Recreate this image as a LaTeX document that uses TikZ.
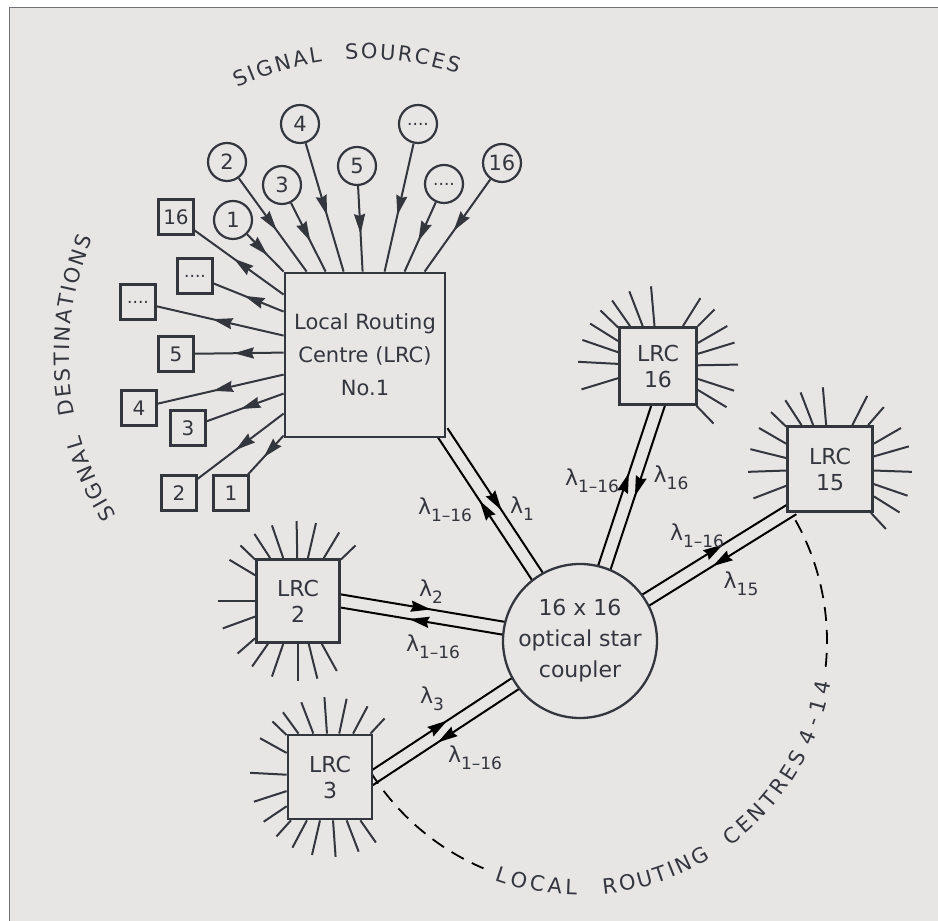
\documentclass[tikz,border=0pt]{standalone}
\usepackage{fontspec}
\setmainfont{DejaVu Sans}
\usetikzlibrary{arrows.meta,calc,backgrounds,decorations.markings,decorations.text}

\definecolor{ink}{RGB}{52,54,62}
\definecolor{paper}{RGB}{232,230,229}

\newcommand{\wl}[1]{λ\raisebox{-7pt}{\fontsize{17}{17}\selectfont #1}}
\newcommand{\arcfont}{\fontsize{21}{25}\selectfont}
\newcommand{\dotsfont}{\fontsize{17}{17}\selectfont}

\begin{document}
\begin{tikzpicture}[
  x=1pt, y=1pt,
  color=ink,
  >={Stealth[length=20pt,width=11pt,inset=2pt]},
  every node/.style={inner sep=0pt},
  lrcbig/.style={
    rectangle, draw, fill=paper, line width=2.8pt,
    minimum width=160pt, minimum height=164pt,
    align=center, font=\fontsize{21}{33}\selectfont,
  },
  lrcbox/.style={
    rectangle, draw, fill=paper, line width=2.8pt,
    minimum size=83pt,
    align=center, font=\fontsize{22}{26}\selectfont,
  },
  starbox/.style={
    circle, draw, fill=paper, line width=2.3pt,
    minimum size=154pt,
    align=center, font=\fontsize{22}{31}\selectfont,
  },
  srcbox/.style={circle, draw, line width=2.2pt, minimum size=38pt,
    font=\fontsize{21}{21}\selectfont},
  dstbox/.style={rectangle, draw, line width=2.4pt, minimum size=35pt,
    font=\fontsize{20}{20}\selectfont},
  wlabel/.style={font=\fontsize{22}{22}\selectfont},
  feed/.style={line width=2pt,
    decoration={markings, mark=at position 0.56 with {\arrow{>}}},
    postaction={decorate}},
  fibre/.style={line width=2pt,
    decoration={markings,
      mark=at position 0.5 with {\pgftransformxshift{10pt}\arrow{>}}},
    postaction={decorate}},
  spoke/.style={line width=2pt},
  ring/.style={line width=1.8pt, dash pattern=on 14pt off 9pt},
  arctext/.style={decorate, decoration={text along path,
    text align=fit to path, text color=ink}},
]
\useasboundingbox (0,0) rectangle (938,921);

%---------- paper ----------
\begin{scope}[on background layer]
  \fill[white] (0,0) rectangle (938,921);
  \fill[paper] (9,0) rectangle (938,913);
  \draw[line width=1pt, ink!70] (9,0) -- (9,913) -- (938,913);
\end{scope}

%---------- routing centres and coupler ----------
\node[lrcbig] (lrc1) at (365,566) {Local Routing\\Centre (LRC)\\No.1};
\node[starbox] (star) at (580,280) {16 x 16\\optical star\\coupler};
\node[lrcbox, minimum size=77pt] (lrc16) at (658,555) {LRC\\16};
\node[lrcbox, minimum size=85pt] (lrc15) at (830,452) {LRC\\15};
\node[lrcbox] (lrc2) at (298,320) {LRC\\2};
\node[lrcbox, minimum size=84pt] (lrc3) at (330,144) {LRC\\3};

%---------- signal sources ----------
\node[srcbox] (s1)  at (233,701) {1};
\node[srcbox] (s2)  at (227,759) {2};
\node[srcbox] (s3)  at (282,736) {3};
\node[srcbox] (s4)  at (300,797) {4};
\node[srcbox] (s5)  at (357,755) {5};
\node[srcbox] (s6)  at (418,797) {\dotsfont ....};
\node[srcbox] (s7)  at (444,737) {\dotsfont ....};
\node[srcbox] (s16) at (502,758) {16};

%---------- signal destinations ----------
\node[dstbox] (d16) at (176,704) {16};
\node[dstbox] (d7)  at (195,645) {\dotsfont ....};
\node[dstbox] (d6)  at (138,619) {\dotsfont ....};
\node[dstbox] (d5)  at (176,567) {5};
\node[dstbox] (d4)  at (139,513) {4};
\node[dstbox] (d3)  at (188,493) {3};
\node[dstbox] (d2)  at (179,428) {2};
\node[dstbox] (d1)  at (231,428) {1};

\foreach \src/\dx in {s1/0,s2/23,s3/42,s4/60,s5/79,s6/101,s7/121,s16/141}{
  \draw[feed] (\src) -- ([xshift=\dx pt]lrc1.north west);
}
\foreach \dst/\dy in {d16/23,d7/40,d6/64,d5/81,d4/103,d3/122,d2/142,d1/164}{
  \draw[feed] ([yshift=-\dy pt]lrc1.north west) -- (\dst);
}

%---------- fibre pairs to the coupler ----------
\begin{scope}[on background layer]
\foreach \lrc/\anc in {lrc1/south east, lrc16/south, lrc15/south west, lrc2/east, lrc3/east}{
  \coordinate (fa) at ($(\lrc.\anc)!-8pt!(star)$);
  \coordinate (fb) at ($(star)!74pt!(\lrc.\anc)$);
  \draw[fibre] ($(fa)!6.5pt!90:(fb)$) -- ($(fb)!6.5pt!-90:(fa)$);
  \draw[fibre] ($(fb)!6.5pt!90:(fa)$) -- ($(fa)!6.5pt!-90:(fb)$);
}
\draw[ring] ($(star)+(212:247)$) arc[start angle=212, end angle=247, radius=247];
\draw[ring] ($(star)+(354:247)$) arc[start angle=354, end angle=392.5, radius=247];
\end{scope}

\node[wlabel] (w1all)  at (445,411) {\wl{1--16}};
\node[wlabel] (w1own)  at (522,412) {\wl{1}};
\node[wlabel] (w16all) at (592,440) {\wl{1--16}};
\node[wlabel] (w16own) at (671,443) {\wl{16}};
\node[wlabel] (w15all) at (697,385) {\wl{1--16}};
\node[wlabel] (w15own) at (741,337) {\wl{15}};
\node[wlabel] (w2own)  at (431,329) {\wl{2}};
\node[wlabel] (w2all)  at (433,274) {\wl{1--16}};
\node[wlabel] (w3own)  at (432,222) {\wl{3}};
\node[wlabel] (w3all)  at (475,163) {\wl{1--16}};

%---------- local lines round the small centres ----------
\foreach \a in {314,329,342,1,17,30,45,58,95,111,125,136,148,161,177,197}
  \draw[spoke] (lrc16.\a) -- ($(lrc16.center)+(\a:80)$);
\foreach \a in {313,328,341,358,16,30,49,63,95,111,123,136,150,166,182,201}
  \draw[spoke] (lrc15.\a) -- ($(lrc15.center)+(\a:82)$);
\foreach \a in {44,59,77,91,109,123,136,149,180,200,221,235,251,270,284,299}
  \draw[spoke] (lrc2.\a) -- ($(lrc2.center)+(\a:80)$);
\foreach \a in {47,62,78,94,111,126,136,151,177,198,214,228,242,257,274,291,305}
  \draw[spoke] (lrc3.\a) -- ($(lrc3.center)+(\a:80)$);

%---------- curved captions ----------
\path[arctext, decoration={text={|\arcfont|SIGNAL}}]
  ($(lrc1.center)+(115.5:296)$) arc[start angle=115.5, end angle=98.3, radius=296];
\path[arctext, decoration={text={|\arcfont|SOURCES}}]
  ($(lrc1.center)+(93.8:296)$) arc[start angle=93.8, end angle=71.7, radius=296];
\path[arctext, decoration={text={|\arcfont|SIGNAL}}]
  ($(lrc1.center)+(212.9:296)$) arc[start angle=212.9, end angle=195.8, radius=296];
\path[arctext, decoration={text={|\arcfont|DESTINATIONS}}]
  ($(lrc1.center)+(191.6:296)$) arc[start angle=191.6, end angle=156.8, radius=296];
\path[arctext, decoration={text={|\arcfont|LOCAL}}]
  ($(star)+(250.3:254)$) arc[start angle=250.3, end angle=269.3, radius=254];
\path[arctext, decoration={text={|\arcfont|ROUTING}}]
  ($(star)+(275.3:254)$) arc[start angle=275.3, end angle=300.9, radius=254];
\path[arctext, decoration={text={|\arcfont|CENTRES}}]
  ($(star)+(306.2:254)$) arc[start angle=306.2, end angle=333.1, radius=254];
\path[arctext, decoration={text={|\arcfont|4-14}}]
  ($(star)+(335.5:254)$) arc[start angle=335.5, end angle=350.7, radius=254];

\end{tikzpicture}
\end{document}
